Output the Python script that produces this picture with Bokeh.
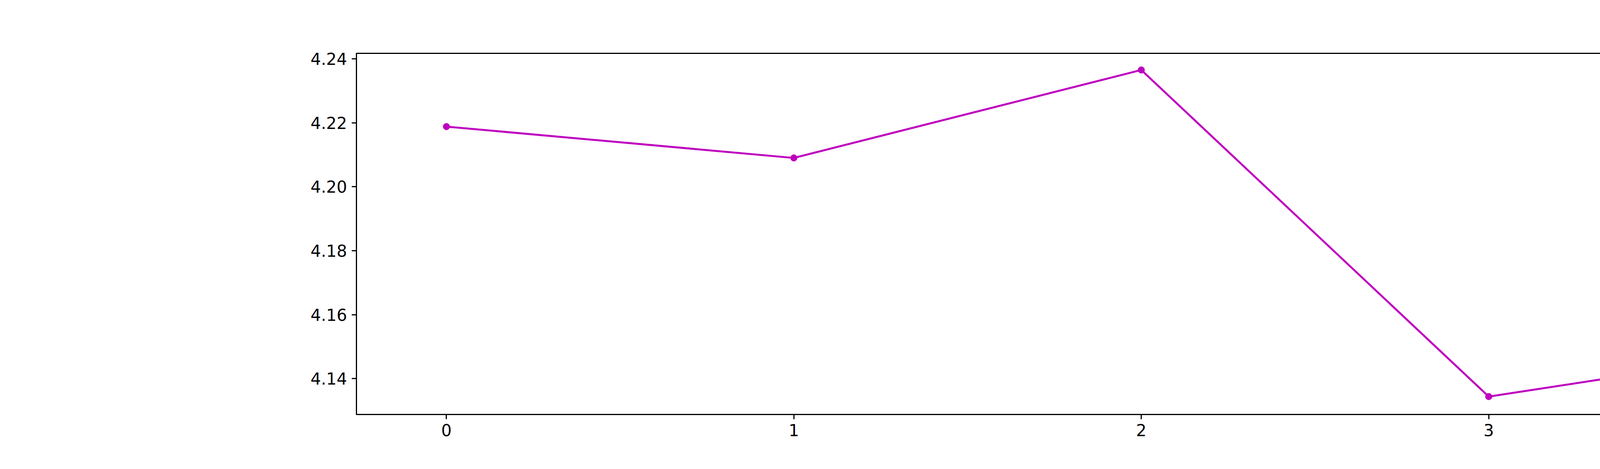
from bokeh.plotting import figure
from bokeh.models import Range1d, FixedTicker
from bokeh.embed import file_html
from bokeh.resources import INLINE

x = [0, 1, 2, 3, 4, 5, 6]
y = [4.2188, 4.209, 4.2365, 4.1344, 4.151, 4.184, 4.194]
y_ticks = [4.14, 4.16, 4.18, 4.20, 4.22, 4.24]

p = figure(width=7484, height=1184, output_backend="svg", toolbar_location=None,
           x_range=Range1d(-0.259, 6.297), y_range=Range1d(4.1288, 4.2417),
           min_border_left=912, min_border_right=741, min_border_top=136, min_border_bottom=124)

p.line(x, y, line_color="#bf00bf", line_width=5)
p.scatter(x, y, size=17, fill_color="#bf00bf", line_color="#bf00bf")

p.xgrid.grid_line_color = None
p.ygrid.grid_line_color = None
p.outline_line_color = "black"
p.outline_line_width = 3
p.outline_line_alpha = 1

p.xaxis.ticker = FixedTicker(ticks=x)
p.yaxis.ticker = FixedTicker(ticks=y_ticks)
p.yaxis.formatter.use_scientific = False
for ax in (p.xaxis, p.yaxis):
    ax.axis_line_width = 3
    ax.major_tick_line_width = 3
    ax.major_tick_out = 12
    ax.major_tick_in = 0
    ax.minor_tick_line_color = None
    ax.major_label_text_font = "DejaVu Sans"
    ax.major_label_text_font_size = "42px"
    ax.major_label_text_color = "black"
    ax.major_label_standoff = 12
from bokeh.models import PrintfTickFormatter
p.yaxis.formatter = PrintfTickFormatter(format="%.2f")

open("out.html", "w").write(file_html(p, INLINE))
